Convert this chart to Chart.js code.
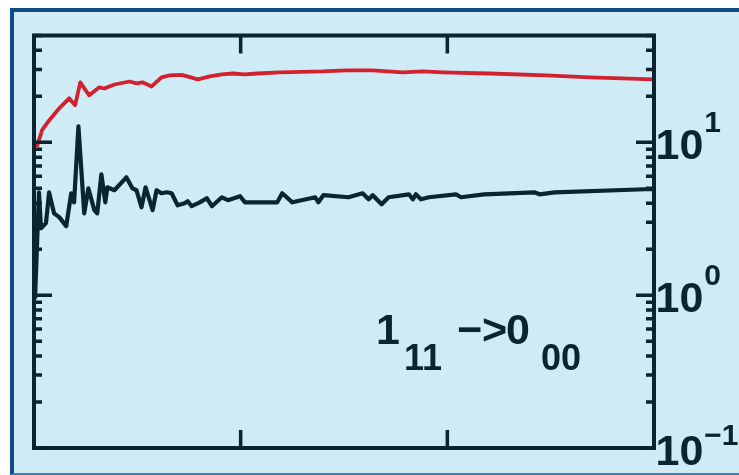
<!DOCTYPE html>
<html>
<head>
<meta charset="utf-8">
<script src="https://cdn.jsdelivr.net/npm/chart.js@4/dist/chart.umd.min.js"></script>
<style>
  html, body { margin: 0; padding: 0; background: #ffffff; width: 739px; height: 475px; overflow: hidden; }
  #panel {
    position: absolute; left: 10px; top: 8px; width: 760px; height: 467px;
    box-sizing: border-box; background: #cfebf6;
    border: 4px solid #0d4b8c; border-right: none; border-bottom: 2px solid #3f7fba;
  }
  #plot { position: absolute; left: 0; top: 0; }
</style>
</head>
<body>
<div id="panel"></div>
<canvas id="plot" width="739" height="475"></canvas>
<script>
// upper (red) curve
const redX = [1.3, 3.9, 7.3, 12.2, 17, 19.9, 22.4, 26.7, 31.6, 34, 38.9, 46.2, 49.6, 52.5, 56.9,
  61.7, 65.6, 71.5, 79.3, 85.1, 90.9, 96.3, 102, 108, 119, 139.5, 151.7, 163.9, 178.4, 188.2,
  197.9, 220.3, 248, 269, 300];
const redY = [9.3, 12.0, 13.9, 16.7, 19.4, 17.5, 24.7, 20.3, 22.9, 22.5, 23.9, 25.0, 24.3, 24.7, 23.2,
  26.6, 27.4, 27.6, 25.8, 27.0, 27.8, 28.2, 27.8, 28.2, 28.7, 29.1, 29.6, 29.6, 28.7, 29.1,
  28.7, 28.2, 27.4, 26.6, 25.8];

// lower (dark) curve
const darkX = [0.5, 2.4, 3.4, 5.8, 7.3, 9.7, 12.2, 15.6, 18.0, 19.4, 21.5, 24.3, 26.3, 29.2, 30.6,
  32.6, 34.5, 35.5, 38.9, 44.7, 47.6, 49.6, 52.0, 54.0, 57.4, 59.3, 61.7, 64.2, 66.6, 69.5,
  72.9, 74.4, 76.3, 80.2, 83.6, 86.1, 90.9, 93.8, 99.7, 102.1, 107, 117.7, 120.1, 125, 136.1,
  137.6, 140, 152.2, 159, 161.9, 163.9, 168.2, 171.6, 181.4, 183.3, 184.8, 187.2, 191.1, 204.2,
  206.6, 217.8, 242.1, 244.6, 251.9, 295.6, 300];
const darkY = [0.95, 4.7, 2.74, 2.96, 4.7, 3.43, 3.24, 2.83, 4.64, 4.05, 12.7, 3.43, 5.0, 3.6, 3.43,
  6.18, 4.05, 5.08, 4.86, 5.9, 5.0, 4.86, 3.76, 5.08, 3.6, 4.86, 4.64, 4.71, 4.64, 3.87,
  3.99, 4.12, 3.82, 4.05, 4.31, 3.82, 4.37, 4.18, 4.44, 4.05, 4.05, 4.05, 4.64, 4.05, 4.37,
  4.05, 4.51, 4.37, 4.64, 4.24, 4.51, 3.93, 4.37, 4.57, 4.24, 4.57, 4.24, 4.37, 4.57,
  4.37, 4.57, 4.71, 4.57, 4.71, 4.93, 4.93];

// axes
const xRange = [0, 300];
const xTicks = [100, 200];
const yRange = [0.1, 50];
const yTickValues = [0.1, 1, 10];
const yTickExponents = ['\u22121', '0', '1'];
// transition label pieces: 1_11 ->0_00
const labelMain = ['1', '\u2212', '>', '0'];
const labelSubs = ['11', '00'];

const ink = '#0a2430';
const red = '#d3222f';

const toPoints = (xs, ys) => xs.map((x, i) => ({ x: x, y: ys[i] }));

// frame, inward ticks and the superscript labels
const framePlugin = {
  id: 'frame',
  afterDatasetsDraw(chart) {
    const { ctx, chartArea: a, scales: { x, y } } = chart;
    ctx.save();
    ctx.strokeStyle = ink;
    ctx.lineWidth = 4;
    ctx.strokeRect(a.left, a.top, a.right - a.left, a.bottom - a.top);

    ctx.lineWidth = 3.5;
    for (let d = -1; d <= 1; d++) {
      for (let m = 1; m <= 9; m++) {
        const v = m * Math.pow(10, d);
        if (v < yRange[0] || v > yRange[1]) continue;
        const py = y.getPixelForValue(v);
        const len = m === 1 ? 18 : 8;
        ctx.beginPath();
        ctx.moveTo(a.left, py); ctx.lineTo(a.left + len, py);
        ctx.moveTo(a.right, py); ctx.lineTo(a.right - len, py);
        ctx.stroke();
      }
    }
    xTicks.forEach(v => {
      const px = x.getPixelForValue(v);
      ctx.beginPath();
      ctx.moveTo(px, a.top); ctx.lineTo(px, a.top + 18);
      ctx.moveTo(px, a.bottom); ctx.lineTo(px, a.bottom - 18);
      ctx.stroke();
    });

    ctx.fillStyle = ink;
    ctx.textBaseline = 'alphabetic';
    ctx.textAlign = 'left';
    yTickValues.forEach((v, i) => {
      const py = y.getPixelForValue(v);
      const tx = a.right + 1.5;
      ctx.font = 'bold 43px "Liberation Sans", Arial, sans-serif';
      ctx.fillText('10', tx, py + 17);
      const w = ctx.measureText('10').width;
      ctx.font = 'bold 30px "Liberation Sans", Arial, sans-serif';
      const off = yTickExponents[i].startsWith('\u2212') ? -3 : -10;
      ctx.fillText(yTickExponents[i], tx + w + 1, py + off);
    });

    // transition label
    ctx.font = 'bold 43px "Liberation Sans", Arial, sans-serif';
    const mainX = [376, 457, 482, 506];
    labelMain.forEach((t, i) => ctx.fillText(t, mainX[i], 344));
    ctx.font = 'bold 36px "Liberation Sans", Arial, sans-serif';
    ctx.fillText(labelSubs[0], 404, 370);
    ctx.fillText(labelSubs[1], 541, 370);
    ctx.restore();
  }
};

new Chart(document.getElementById('plot'), {
  type: 'line',
  data: {
    datasets: [
      { data: toPoints(redX, redY), borderColor: red, borderWidth: 3.8, pointRadius: 0, tension: 0, borderJoinStyle: 'round' },
      { data: toPoints(darkX, darkY), borderColor: ink, borderWidth: 4.2, pointRadius: 0, tension: 0, borderJoinStyle: 'round' }
    ]
  },
  options: {
    responsive: false,
    animation: false,
    devicePixelRatio: 1,
    layout: { padding: { left: 34, top: 35.5, right: 85, bottom: 27 } },
    plugins: { legend: { display: false }, tooltip: { enabled: false } },
    scales: {
      x: { type: 'linear', min: xRange[0], max: xRange[1], display: false },
      y: { type: 'logarithmic', min: yRange[0], max: yRange[1], display: false }
    }
  },
  plugins: [framePlugin]
});
</script>
</body>
</html>
